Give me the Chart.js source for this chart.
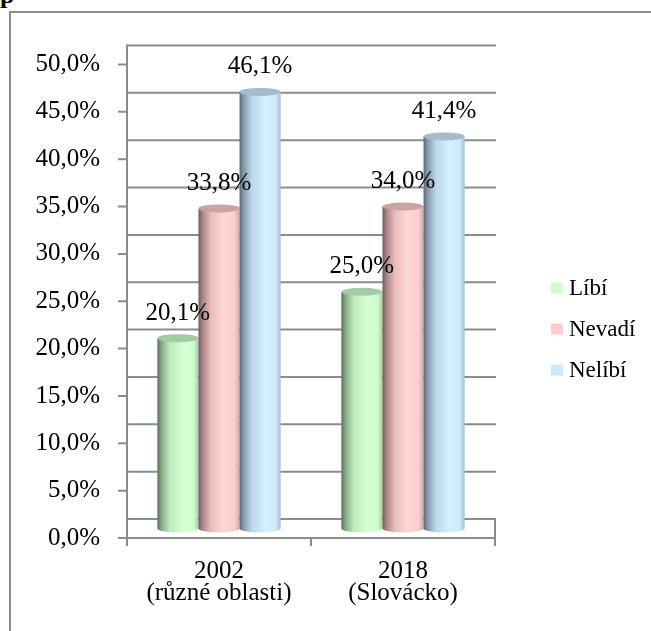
<!DOCTYPE html>
<html lang="cs">
<head>
<meta charset="UTF-8">
<title>Líbí / Nevadí / Nelíbí</title>
<script src="https://cdn.jsdelivr.net/npm/chart.js@4"></script>
<style>
  html, body { margin: 0; padding: 0; background: #fff; }
  body { width: 651px; height: 631px; overflow: hidden; position: relative; }
  .frame { position: absolute; left: 9px; top: 11px; width: 700px; height: 700px;
           border-left: 2px solid #8e8e8e; border-top: 2px solid #8e8e8e; }
  .cut { position: absolute; left: 0; top: -20px; line-height: 26px;
         font: bold 26px "Liberation Serif", serif; color: #000; }
  #chart { position: absolute; left: 0; top: 0; }
</style>
</head>
<body>
<div class="cut">p</div>
<div class="frame"></div>
<canvas id="chart" width="651" height="631"></canvas>
<script>
// data
const categories = [["2002", "(různé oblasti)"], ["2018", "(Slovácko)"]];
const seriesNames = ["Líbí", "Nevadí", "Nelíbí"];
const libi = [20.1, 25.0];
const nevadi = [33.8, 34.0];
const nelibi = [46.1, 41.4];
const yMax = 50;
const yStep = 5;

// style
const FONT = "Liberation Serif";
const colors = ["#ccffcc", "#ffcccc", "#cceaff"];
const GRID = "#8c8c8c";
const DEPTH = 19;   // back wall sits this far up
const MID = 9.5;    // cylinders stand halfway into the floor
const RY = 4;       // ellipse half height

const fmt = v => v.toFixed(1).replace(".", ",") + "%";

function rgb(hex) {
  const n = parseInt(hex.slice(1), 16);
  return [(n >> 16) & 255, (n >> 8) & 255, n & 255];
}
function shade(hex, k) {
  return "rgb(" + rgb(hex).map(c => {
    const v = k <= 1 ? c * k : c + (255 - c) * (k - 1);
    return Math.round(Math.min(255, v));
  }).join(",") + ")";
}

const walls = {
  id: "walls",
  beforeDatasetsDraw(chart) {
    const { ctx, chartArea: a, scales: { y } } = chart;
    ctx.save();
    ctx.strokeStyle = GRID;
    ctx.lineWidth = 2;
    // back wall gridlines
    y.ticks.forEach(t => {
      const py = y.getPixelForValue(t.value) - DEPTH;
      ctx.beginPath(); ctx.moveTo(a.left, py); ctx.lineTo(a.right + 1, py); ctx.stroke();
    });
    // front axes + ticks
    ctx.beginPath();
    ctx.moveTo(a.left, y.getPixelForValue(yMax) - DEPTH - 1);
    ctx.lineTo(a.left, a.bottom + 8);
    ctx.moveTo(a.right, a.bottom - DEPTH);
    ctx.lineTo(a.right, a.bottom + 8);
    ctx.moveTo((a.left + a.right) / 2, a.bottom);
    ctx.lineTo((a.left + a.right) / 2, a.bottom + 8);
    ctx.moveTo(a.left, a.bottom); ctx.lineTo(a.right, a.bottom);
    y.ticks.forEach(t => {
      const py = y.getPixelForValue(t.value);
      ctx.moveTo(a.left - 9, py); ctx.lineTo(a.left, py);
    });
    ctx.stroke();

    // cylinders
    chart.data.datasets.forEach((ds, i) => {
      const base = colors[i];
      chart.getDatasetMeta(i).data.forEach(bar => {
        const x0 = bar.x - bar.width / 2, x1 = bar.x + bar.width / 2;
        const top = bar.y - MID, bot = bar.base - MID;
        const g = ctx.createLinearGradient(x0, 0, x1, 0);
        g.addColorStop(0, shade(base, 0.45));
        g.addColorStop(0.1, shade(base, 0.66));
        g.addColorStop(0.3, shade(base, 0.92));
        g.addColorStop(0.62, shade(base, 1.22));
        g.addColorStop(0.88, shade(base, 1.0));
        g.addColorStop(1, shade(base, 0.82));
        ctx.fillStyle = g;
        ctx.beginPath();
        ctx.moveTo(x0, top);
        ctx.lineTo(x0, bot);
        ctx.ellipse(bar.x, bot, bar.width / 2, RY, 0, Math.PI, 0, true);
        ctx.lineTo(x1, top);
        ctx.closePath();
        ctx.fill();
        ctx.fillStyle = shade(base, 0.8);
        ctx.beginPath();
        ctx.ellipse(bar.x, top, bar.width / 2, RY, 0, 0, Math.PI * 2);
        ctx.fill();
      });
    });
    ctx.restore();
    return false;
  },
  afterDraw(chart) {
    const { ctx } = chart;
    ctx.save();
    ctx.fillStyle = "#000";
    ctx.font = "25px '" + FONT + "'";
    ctx.textAlign = "center";
    ctx.textBaseline = "middle";
    chart.data.datasets.forEach((ds, i) => {
      chart.getDatasetMeta(i).data.forEach((bar, j) => {
        ctx.fillText(fmt(ds.data[j]), bar.x, bar.y - MID - 25);
      });
    });
    // legend
    ctx.font = "23px '" + FONT + "'";
    ctx.textAlign = "left";
    chart.data.datasets.forEach((ds, i) => {
      const cy = 288 + i * 41;
      ctx.fillStyle = ds.backgroundColor;
      ctx.fillRect(551, cy - 5.5, 12, 11);
      ctx.fillStyle = "#000";
      ctx.fillText(ds.label, 569, cy + 1);
    });
    ctx.restore();
  }
};

new Chart(document.getElementById("chart"), {
  type: "bar",
  data: {
    labels: categories,
    datasets: [
      { label: seriesNames[0], data: libi, backgroundColor: colors[0] },
      { label: seriesNames[1], data: nevadi, backgroundColor: colors[1] },
      { label: seriesNames[2], data: nelibi, backgroundColor: colors[2] }
    ]
  },
  options: {
    responsive: false,
    animation: false,
    categoryPercentage: 0.67,
    barPercentage: 1,
    layout: { padding: { top: 64.5, right: 156, left: 0, bottom: 0 } },
    plugins: { legend: { display: false }, tooltip: { enabled: false } },
    scales: {
      x: {
        offset: true,
        grid: { display: false, drawTicks: false },
        border: { display: false },
        ticks: { color: "#000", padding: 23, maxRotation: 0, autoSkip: false,
                 font: { family: FONT, size: 25, lineHeight: 0.86 } },
        afterFit(s) { s.height = 93; }
      },
      y: {
        min: 0, max: yMax,
        grid: { display: false, drawTicks: false },
        border: { display: false },
        ticks: { stepSize: yStep, color: "#000", padding: 27,
                 font: { family: FONT, size: 25 }, callback: v => fmt(v) },
        afterFit(s) { s.width = 127; }
      }
    }
  },
  plugins: [walls]
});
</script>
</body>
</html>
